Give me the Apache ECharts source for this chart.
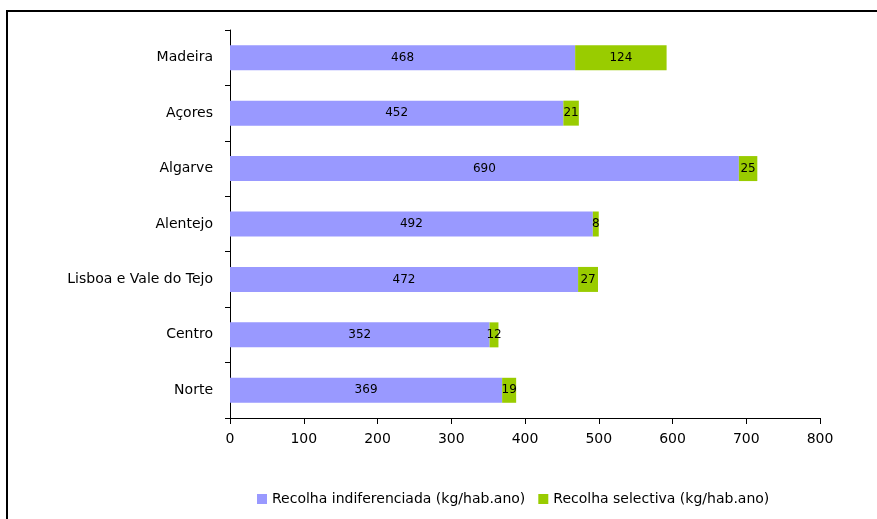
<!DOCTYPE html>
<html>
<head>
<meta charset="utf-8">
<script src="https://cdn.jsdelivr.net/npm/echarts@6/dist/echarts.min.js"></script>
<style>
  html, body { margin: 0; padding: 0; background: #fff; }
  #frame { position: absolute; left: 6px; top: 10px; width: 871px; height: 509px;
           border-top: 2px solid #000; border-left: 2px solid #000; box-sizing: border-box; }
  #chart { position: absolute; left: 0; top: 0; width: 877px; height: 519px; }
</style>
</head>
<body>
<div id="frame"></div>
<div id="chart"></div>
<script>
// Regions, listed bottom to top as the category axis draws them
const regions = ['Norte', 'Centro', 'Lisboa e Vale do Tejo', 'Alentejo', 'Algarve', 'Açores', 'Madeira'];
// Municipal waste collected per inhabitant (kg/hab.ano)
const indiferenciada = [369, 352, 472, 492, 690, 452, 468];
const selectiva = [19, 12, 27, 8, 25, 21, 124];
const seriesNames = ['Recolha indiferenciada (kg/hab.ano)', 'Recolha selectiva (kg/hab.ano)'];

const font = 'DejaVu Sans, Verdana, sans-serif';
const chart = echarts.init(document.getElementById('chart'), null, { renderer: 'canvas' });

const labelStyle = {
  show: true,
  position: 'inside',
  color: '#000',
  fontFamily: font,
  fontSize: 12
};

chart.setOption({
  animation: false,
  backgroundColor: 'transparent',
  grid: { left: 230, right: 57, top: 30, bottom: 101, containLabel: false },
  legend: {
    left: 252,
    top: 487,
    itemWidth: 10,
    itemHeight: 10,
    itemGap: 13,
    icon: 'rect',
    textStyle: { fontFamily: font, fontSize: 14, color: '#000' },
    data: seriesNames
  },
  xAxis: {
    type: 'value',
    min: 0,
    max: 800,
    interval: 100,
    splitLine: { show: false },
    axisLine: { show: true, lineStyle: { color: '#000', width: 1 } },
    axisTick: { show: true, length: 6, lineStyle: { color: '#000' } },
    axisLabel: { color: '#000', fontFamily: font, fontSize: 14, margin: 14 }
  },
  yAxis: {
    type: 'category',
    data: regions,
    axisLine: { show: true, lineStyle: { color: '#000', width: 1 } },
    axisTick: { show: true, length: 5, lineStyle: { color: '#000' } },
    axisLabel: { color: '#000', fontFamily: font, fontSize: 14, margin: 17 }
  },
  series: [
    {
      name: seriesNames[0],
      type: 'bar',
      stack: 'total',
      barWidth: 25,
      itemStyle: { color: '#9999ff' },
      label: labelStyle,
      data: indiferenciada
    },
    {
      name: seriesNames[1],
      type: 'bar',
      stack: 'total',
      barWidth: 25,
      itemStyle: { color: '#99cc00' },
      label: labelStyle,
      data: selectiva
    }
  ]
});
</script>
</body>
</html>
